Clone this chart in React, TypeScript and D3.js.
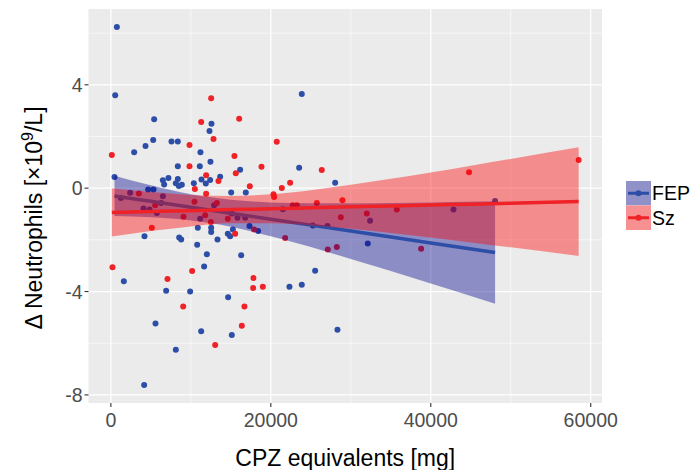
import * as d3 from 'd3';

// FEP group: CPZ equivalents (mg) and change in neutrophils
const fepCpz = [
  750, 540, 5410, 4330, 2910, 5290, 7580, 8370, 12580, 12330, 11200, 12450, 8370, 11120, 16160, 13660,
  450, 6500, 7200, 6660, 8370, 8120, 8500, 8870, 10370, 11330, 11870, 12410, 15040, 16870, 4660, 5330,
  2410, 1250, 6500, 6290, 4080, 4830, 5750, 12910, 21500, 11160, 15120, 15830, 16790, 4200, 8540, 8790,
  10870, 12540, 12540, 13330, 14620, 14910, 15250, 17330, 18410, 10790, 12000, 16290, 11660, 1620, 6910,
  9910, 14660, 5580, 11290, 15120, 8120, 4160, 23870, 23540, 28040, 25250, 27080, 32410, 32120, 25540,
  22330, 23870, 28330, 42840, 48040,
];
const fepDelta = [
  6.24, 3.6, 2.67, 1.63, 1.39, 1.86, 1.81, 1.81, 2.49, 2.21, 1.39, 1.02, 0.85, 0.85, 0.71, 0.44,
  0.43, 0.31, 0.39, 0.14, 0.35, 0.19, 0.08, 0.13, 0.19, 0.34, 0.18, 0.32, -0.17, -0.17, -0.05, -0.05,
  -0.18, -0.38, -0.31, -0.57, -0.79, -0.83, -0.96, -0.66, -0.82, -1.18, -0.98, -1.14, -1.14, -1.86, -1.91, -1.99,
  -1.53, -1.53, -1.7, -1.99, -1.76, -1.86, -1.6, -1.46, -1.66, -2.19, -2.56, -2.6, -3.03, -3.6, -3.97,
  -4.0, -4.22, -5.24, -5.54, -5.68, -6.25, -7.62, 3.64, 0.79, 0.21, -1.44, -1.46, -1.26, -2.14, -3.2,
  -3.81, -3.74, -5.48, -0.83, -0.5,
];

// Sz group
const szCpz = [
  12540, 11290, 16040, 12830, 9830, 120, 15450, 9830, 15620, 11910, 13450, 17370, 10500, 11910, 3500, 18830,
  10450, 13250, 22410, 21370, 20330, 20410, 5540, 22750, 23250, 11790, 9080, 12500, 14620, 5120, 15540, 17910,
  21790, 10160, 200, 7080, 17830, 17790, 9040, 16700, 16370, 13040, 20740, 26370, 25750, 28950, 28750, 32000,
  35750, 27120, 28250, 38790, 19000, 44790, 58490,
];
const szDelta = [
  3.48, 2.56, 2.69, 1.9, 1.67, 1.28, 1.24, 0.85, 0.58, 0.5, 0.28, 0.07, -0.03, -0.22, -0.21, 0.83,
  -0.53, -0.57, 0.21, 0.01, -0.24, -0.34, -0.66, -0.66, -0.66, -1.05, -1.11, -1.31, -1.18, -1.53, -1.76, -1.6,
  -1.93, -3.21, -3.06, -3.51, -3.48, -3.86, -4.58, -4.58, -5.32, -6.07, 1.8, 0.7, -0.57, -0.47, -1.13, -0.98,
  -0.83, -2.37, -2.28, -2.34, -3.81, 0.62, 1.09,
];

// linear fits with 95% bands
const fepFitX = [450, 5000, 10000, 15000, 20000, 25000, 30000, 35000, 40000, 48040];
const fepFit = [-0.3, -0.51, -0.74, -0.97, -1.2, -1.43, -1.66, -1.89, -2.12, -2.49];
const fepLower = [-1.08, -1.13, -1.25, -1.49, -1.86, -2.28, -2.74, -3.21, -3.69, -4.47];
const fepUpper = [0.48, 0.11, -0.24, -0.45, -0.55, -0.58, -0.58, -0.57, -0.55, -0.51];

const szFitX = [120, 5000, 10000, 15000, 20000, 25000, 30000, 35000, 40000, 45000, 50000, 58490];
const szFit = [-0.94, -0.9, -0.87, -0.83, -0.8, -0.76, -0.72, -0.69, -0.65, -0.62, -0.58, -0.52];
const szLower = [-1.87, -1.66, -1.48, -1.36, -1.36, -1.44, -1.57, -1.73, -1.91, -2.1, -2.29, -2.62];
const szUpper = [0.0, -0.15, -0.26, -0.3, -0.24, -0.08, 0.13, 0.36, 0.61, 0.87, 1.13, 1.58];

const xTicks = [0, 20000, 40000, 60000];
const xMinor = [10000, 30000, 50000];
const yTicks = [-8, -4, 0, 4];
const yMinor = [-6, -2, 2, 6];
const groups = ['FEP', 'Sz'];

const blue = '#2d4ea6';
const red = '#ee2227';
const font = 'Liberation Sans, Arial, Helvetica, sans-serif';

function expand([lo, hi]: number[]) {
  const pad = (hi - lo) * 0.05;
  return [lo - pad, hi + pad];
}

export default function App() {
  const left = 88.5;
  const right = 602;
  const top = 9;
  const bottom = 403;

  const allX = [...fepCpz, ...szCpz];
  const allY = [...fepDelta, ...szDelta, ...fepLower, ...szUpper];
  const x = d3.scaleLinear().domain(expand(d3.extent(allX) as number[])).range([left, right]);
  const y = d3.scaleLinear().domain(expand(d3.extent(allY) as number[])).range([bottom, top]);

  const band = (xs: number[], lo: number[], hi: number[]) =>
    d3
      .area<number>()
      .x(i => x(xs[i]))
      .y0(i => y(lo[i]))
      .y1(i => y(hi[i]))
      .curve(d3.curveMonotoneX)(d3.range(xs.length));
  const fit = (xs: number[], ys: number[]) =>
    d3
      .line<number>()
      .x(i => x(xs[i]))
      .y(i => y(ys[i]))
      .curve(d3.curveMonotoneX)(d3.range(xs.length));

  const legendColors = [
    { stroke: blue, fill: 'darkblue' },
    { stroke: red, fill: 'red' },
  ];

  return (
    <svg width={690} height={470} style={{ display: 'block', marginLeft: -8, marginTop: -8 }}>
      <rect x={0} y={0} width={698} height={470} fill="white" />
      <rect x={left} y={top} width={right - left} height={bottom - top} fill="#ebebeb" />
      {xMinor.map(t => (
        <line key={'xm' + t} x1={x(t)} x2={x(t)} y1={top} y2={bottom} stroke="white" strokeWidth={0.6} />
      ))}
      {yMinor.map(t => (
        <line key={'ym' + t} x1={left} x2={right} y1={y(t)} y2={y(t)} stroke="white" strokeWidth={0.6} />
      ))}
      {xTicks.map(t => (
        <line key={'xg' + t} x1={x(t)} x2={x(t)} y1={top} y2={bottom} stroke="white" strokeWidth={1.2} />
      ))}
      {yTicks.map(t => (
        <line key={'yg' + t} x1={left} x2={right} y1={y(t)} y2={y(t)} stroke="white" strokeWidth={1.2} />
      ))}

      {fepCpz.map((c, i) => (
        <circle key={'f' + i} cx={x(c)} cy={y(fepDelta[i])} r={3} fill={blue} />
      ))}
      {szCpz.map((c, i) => (
        <circle key={'s' + i} cx={x(c)} cy={y(szDelta[i])} r={3} fill={red} />
      ))}

      <path d={band(fepFitX, fepLower, fepUpper) ?? ''} fill="darkblue" fillOpacity={0.4} />
      <path d={fit(fepFitX, fepFit) ?? ''} fill="none" stroke={blue} strokeWidth={3.5} />
      <path d={band(szFitX, szLower, szUpper) ?? ''} fill="red" fillOpacity={0.4} />
      <path d={fit(szFitX, szFit) ?? ''} fill="none" stroke={red} strokeWidth={3.5} />

      {xTicks.map(t => (
        <g key={'xt' + t}>
          <line x1={x(t)} x2={x(t)} y1={bottom} y2={bottom + 4} stroke="#333" strokeWidth={1.1} />
          <text x={x(t)} y={427} textAnchor="middle" fontSize={19.5} fill="#4d4d4d" fontFamily={font}>
            {t}
          </text>
        </g>
      ))}
      {yTicks.map(t => (
        <g key={'yt' + t}>
          <line x1={left - 4} x2={left} y1={y(t)} y2={y(t)} stroke="#333" strokeWidth={1.1} />
          <text x={left - 6} y={y(t)} dy="0.36em" textAnchor="end" fontSize={19.5} fill="#4d4d4d" fontFamily={font}>
            {t}
          </text>
        </g>
      ))}

      <text x={(left + right) / 2} y={466} textAnchor="middle" fontSize={23} fill="black" fontFamily={font}>
        CPZ equivalents [mg]
      </text>
      <text
        transform={`translate(42,${(top + bottom) / 2 + 12}) rotate(-90)`}
        textAnchor="middle"
        fontSize={23}
        fill="black"
        fontFamily={font}
      >
        Δ Neutrophils [×10<tspan dy={-9} fontSize={16}>9</tspan>
        <tspan dy={9}>/L]</tspan>
      </text>

      {groups.map((g, i) => {
        const ky = 181 + i * 24.5;
        return (
          <g key={g}>
            <rect x={626} y={ky} width={25} height={24.5} fill="#f2f2f2" />
            <rect x={626} y={ky} width={25} height={24.5} fill={legendColors[i].fill} fillOpacity={0.4} />
            <line x1={628} x2={649} y1={ky + 12.25} y2={ky + 12.25} stroke={legendColors[i].stroke} strokeWidth={3} />
            <circle cx={638.5} cy={ky + 12.25} r={3} fill={legendColors[i].stroke} />
            <text x={652} y={ky + 12.25} dy="0.36em" fontSize={19.5} fill="black" fontFamily={font}>
              {g}
            </text>
          </g>
        );
      })}
    </svg>
  );
}
